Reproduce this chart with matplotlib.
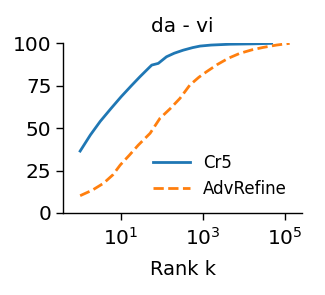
import numpy as np
import matplotlib
matplotlib.use("Agg")
import matplotlib.pyplot as plt
from matplotlib.ticker import FixedLocator, NullLocator

title = "da - vi"
xlabel = "Rank k"
series_names = ["Cr5", "AdvRefine"]

# log10(rank) and recall (%)
cr5_logk = [0.0, 0.25, 0.49, 0.75, 1.0, 1.25, 1.46, 1.69, 1.75, 1.91, 2.11, 2.3, 2.52, 2.75, 2.93, 3.2, 3.66, 4.2, 4.68]
cr5_vals = [36.5, 46.0, 54.0, 61.5, 68.5, 75.0, 80.3, 85.8, 87.2, 88.2, 92.1, 94.2, 96.0, 97.5, 98.4, 99.0, 99.5, 99.7, 100.0]
adv_logk = [0.0, 0.3, 0.57, 0.8, 0.98, 1.2, 1.42, 1.71, 1.95, 2.2, 2.44, 2.68, 2.9, 3.09, 3.35, 3.62, 3.9, 4.2, 4.47, 4.8, 5.12]
adv_vals = [10.2, 13.5, 17.5, 22.5, 28.3, 34.0, 40.0, 47.0, 55.8, 61.5, 67.6, 75.4, 80.0, 83.3, 87.5, 91.2, 94.1, 96.2, 97.6, 99.0, 100.0]

xticks = [1e1, 1e3, 1e5]
yticks = [0, 25, 50, 75, 100]

fig = plt.figure(figsize=(3.25, 2.95), dpi=100)
ax = fig.add_axes([0.195, 0.278, 0.734, 0.575])

ax.plot(10 ** np.array(cr5_logk), cr5_vals, color="#1f77b4", lw=2.0, ls="-", label=series_names[0])
ax.plot(10 ** np.array(adv_logk), adv_vals, color="#ff7f0e", lw=2.0, ls="--", label=series_names[1])

ax.set_xscale("log")
ax.set_xlim(10 ** -0.41, 10 ** 5.42)
ax.set_ylim(0, 100)
ax.xaxis.set_major_locator(FixedLocator(xticks))
ax.xaxis.set_minor_locator(NullLocator())
ax.set_yticks(yticks)
ax.tick_params(labelsize=14.5, length=5, width=1.0)
ax.tick_params(axis="x", pad=5)

for s in ["top", "right"]:
    ax.spines[s].set_visible(False)
for s in ["left", "bottom"]:
    ax.spines[s].set_linewidth(1.0)

ax.set_title(title, fontsize=14.5, pad=8)
ax.set_xlabel(xlabel, fontsize=14, labelpad=8)
ax.legend(loc="lower right", frameon=False, fontsize=12, handlelength=2.2)

fig.savefig("out.png", dpi=100)
